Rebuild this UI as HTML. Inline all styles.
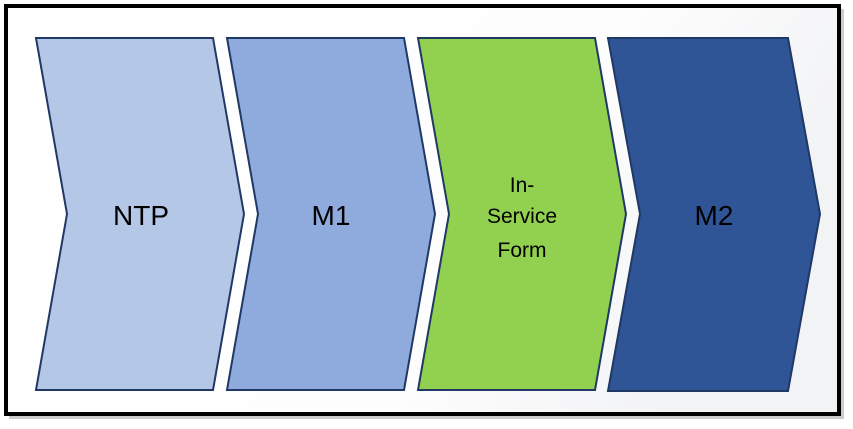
<!DOCTYPE html>
<html><head><style>
html,body{margin:0;padding:0;width:853px;height:429px;background:#fff;overflow:hidden}
</style></head><body>
<svg width="853" height="429" viewBox="0 0 853 429" xmlns="http://www.w3.org/2000/svg">
<defs>
<linearGradient id="bg" x1="0" y1="0" x2="1" y2="0.3">
<stop offset="0" stop-color="#ffffff"/><stop offset="0.7" stop-color="#fdfdfd"/><stop offset="1" stop-color="#f2f3f5"/>
</linearGradient>
</defs>
<rect x="9" y="9" width="835" height="410" fill="#999" opacity="0.5"/>
<rect x="6" y="6" width="833" height="408" fill="url(#bg)" stroke="#000" stroke-width="4"/>
<g stroke="#1f3864" stroke-width="2" stroke-linejoin="miter">
<polygon points="36,38 213,38 244,214 213,390 36,390 67,214" fill="#b4c7e7"/>
<polygon points="227,38 404,38 435,214 404,390 227,390 258,214" fill="#8faadc"/>
<polygon points="418,38 595,38 626,214 595,390 418,390 449,214" fill="#92d050"/>
<polygon points="608,38 788,38 820,214 788,391 608,391 640,214" fill="#2f5597"/>
</g>
<g font-family="Liberation Sans, sans-serif" fill="#000" text-anchor="middle">
<text x="141" y="225" font-size="28">NTP</text>
<text x="331" y="225" font-size="28">M1</text>
<text x="522" y="192" font-size="21">In-</text>
<text x="522" y="223" font-size="21">Service</text>
<text x="522" y="257" font-size="21">Form</text>
<text x="714" y="225" font-size="28">M2</text>
</g>
</svg>
</body></html>
